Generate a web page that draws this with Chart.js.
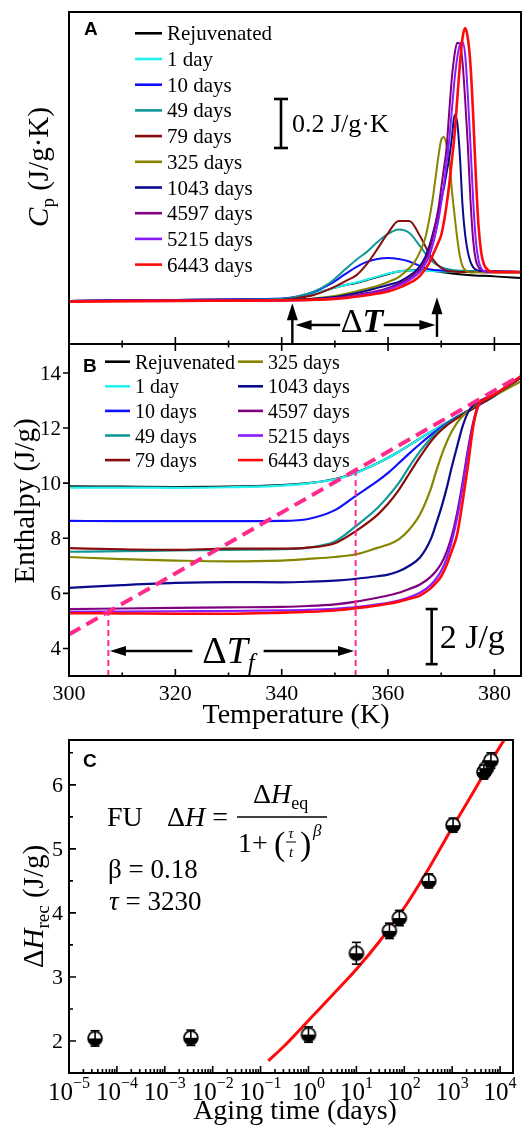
<!DOCTYPE html>
<html>
<head>
<meta charset="utf-8">
<script src="https://cdn.jsdelivr.net/npm/chart.js@4.4.1/dist/chart.umd.min.js"></script>
<style>
  html, body { margin: 0; padding: 0; background: #fff; }
  body { width: 522px; height: 1129px; position: relative; overflow: hidden; }
  canvas { position: absolute; left: 0; }
  #cpChart { top: 0; }
  #enthalpyChart { top: 330px; }
  #agingChart { top: 728px; }
</style>
</head>
<body>
<canvas id="cpChart" width="522" height="346"></canvas>
<canvas id="enthalpyChart" width="522" height="402"></canvas>
<canvas id="agingChart" width="522" height="401"></canvas>
<script>
/* ==========================
   DATA
========================== */

const seriesLabels = ["Rejuvenated", "1 day", "10 days", "49 days", "79 days",
    "325 days", "1043 days", "4597 days", "5215 days", "6443 days"];

// panel A : heat capacity (J/g.K)
const cpTempsBroad = [300, 310, 320, 330, 340, 343, 346, 349, 352, 354, 356, 358,
    360, 362, 364, 366, 368, 370, 372, 375, 380, 385];
const cpTempsSharp = [300, 320, 340, 350, 355, 358, 360, 362, 364, 365, 366, 367,
    367.5, 368, 368.5, 369, 369.5, 370, 370.5, 371, 371.5, 372, 372.5, 373, 373.5,
    374, 374.5, 375, 375.5, 376, 376.5, 377, 377.5, 378, 379, 380, 385];

const cpRejuvenated = [1.496, 1.498, 1.500, 1.502, 1.504, 1.510, 1.524, 1.544, 1.561, 1.569, 1.581, 1.593,
    1.606, 1.616, 1.620, 1.622, 1.620, 1.614, 1.608, 1.602, 1.596, 1.589];
const cp1Day = [1.494, 1.496, 1.498, 1.500, 1.504, 1.512, 1.526, 1.544, 1.561, 1.571, 1.583, 1.595,
    1.608, 1.616, 1.620, 1.620, 1.618, 1.616, 1.616, 1.616, 1.616, 1.614];
const cp10Days = [1.496, 1.498, 1.500, 1.502, 1.506, 1.514, 1.532, 1.563, 1.606, 1.634, 1.655, 1.667,
    1.671, 1.667, 1.657, 1.638, 1.624, 1.620, 1.618, 1.618, 1.616, 1.614];
const cp49Days = [1.494, 1.496, 1.498, 1.500, 1.504, 1.514, 1.534, 1.569, 1.626, 1.663, 1.696, 1.736,
    1.769, 1.787, 1.773, 1.720, 1.663, 1.634, 1.622, 1.618, 1.616, 1.614];
const cp79Days = [1.496, 1.498, 1.500, 1.500, 1.500, 1.508, 1.520, 1.544, 1.577, 1.600, 1.646, 1.708,
    1.773, 1.822, 1.822, 1.761, 1.679, 1.630, 1.616, 1.614, 1.612, 1.612];
const cp325Days = [1.496, 1.498, 1.500, 1.516, 1.540, 1.557, 1.573, 1.593, 1.630, 1.655, 1.696, 1.753,
    1.802, 1.859, 1.928, 2.010, 2.091, 2.153, 2.165, 2.132, 2.071, 1.949, 1.847, 1.753, 1.679,
    1.638, 1.622, 1.614, 1.612, 1.612, 1.614, 1.614, 1.614, 1.614, 1.614, 1.614, 1.612];
const cp1043Days = [1.496, 1.498, 1.500, 1.512, 1.532, 1.549, 1.561, 1.573, 1.598, 1.614, 1.638, 1.675,
    1.704, 1.736, 1.777, 1.818, 1.859, 1.908, 1.957, 2.018, 2.079, 2.161, 2.255, 2.226, 2.091,
    1.887, 1.765, 1.696, 1.655, 1.634, 1.624, 1.620, 1.618, 1.618, 1.616, 1.616, 1.614];
const cp4597Days = [1.496, 1.498, 1.498, 1.508, 1.524, 1.536, 1.549, 1.565, 1.589, 1.606, 1.626, 1.663,
    1.687, 1.720, 1.765, 1.818, 1.879, 1.957, 2.038, 2.120, 2.267, 2.406, 2.500, 2.549, 2.545,
    2.471, 2.316, 2.132, 1.908, 1.744, 1.663, 1.634, 1.622, 1.618, 1.616, 1.616, 1.614];
const cp5215Days = [1.496, 1.498, 1.498, 1.506, 1.520, 1.532, 1.542, 1.559, 1.581, 1.596, 1.614, 1.647,
    1.667, 1.696, 1.732, 1.777, 1.830, 1.896, 1.969, 2.059, 2.153, 2.275, 2.398, 2.487, 2.540,
    2.553, 2.500, 2.336, 2.132, 1.908, 1.744, 1.663, 1.630, 1.618, 1.616, 1.614, 1.614];
const cp6443Days = [1.493, 1.496, 1.498, 1.504, 1.516, 1.526, 1.534, 1.549, 1.569, 1.581, 1.598, 1.626,
    1.642, 1.663, 1.687, 1.712, 1.736, 1.765, 1.818, 1.887, 1.969, 2.071, 2.173, 2.316, 2.459,
    2.569, 2.610, 2.569, 2.459, 2.255, 2.010, 1.806, 1.696, 1.647, 1.618, 1.614, 1.614];

// panel B : enthalpy (J/g)
const hTemps = [300, 310, 320, 330, 340, 345, 350, 354, 358, 360, 362, 364, 366,
    368, 369, 370, 371, 372, 373, 374, 375, 376, 377, 378, 380, 385];

const hRejuvenated = [9.88, 9.87, 9.86, 9.87, 9.93, 10.00, 10.15, 10.38, 10.72, 10.92, 11.14, 11.38, 11.62,
    11.86, 11.97, 12.08, 12.19, 12.30, 12.41, 12.52, 12.62, 12.72, 12.83, 12.94, 13.17, 13.85];
const h1Day = [9.84, 9.84, 9.83, 9.85, 9.91, 9.99, 10.14, 10.37, 10.72, 10.92, 11.14, 11.38, 11.62,
    11.86, 11.97, 12.08, 12.19, 12.30, 12.41, 12.52, 12.62, 12.72, 12.83, 12.94, 13.17, 13.84];
const h10Days = [8.63, 8.62, 8.62, 8.62, 8.63, 8.70, 9.02, 9.55, 10.07, 10.37, 10.72, 11.08, 11.42,
    11.74, 11.89, 12.03, 12.16, 12.28, 12.40, 12.51, 12.62, 12.72, 12.83, 12.94, 13.17, 13.85];
const h49Days = [7.51, 7.53, 7.56, 7.58, 7.60, 7.66, 7.88, 8.45, 9.10, 9.52, 10.00, 10.60, 11.15,
    11.62, 11.82, 11.98, 12.13, 12.26, 12.38, 12.50, 12.61, 12.72, 12.83, 12.94, 13.17, 13.84];
const h79Days = [7.64, 7.60, 7.58, 7.62, 7.62, 7.66, 7.82, 8.27, 8.85, 9.25, 9.75, 10.35, 10.95,
    11.50, 11.73, 11.92, 12.09, 12.23, 12.36, 12.48, 12.60, 12.71, 12.82, 12.94, 13.17, 13.84];
const h325Days = [7.32, 7.24, 7.19, 7.16, 7.19, 7.25, 7.32, 7.42, 7.65, 7.77, 7.96, 8.32, 8.86,
    9.77, 10.40, 10.98, 11.48, 11.88, 12.20, 12.43, 12.61, 12.77, 12.91, 13.03, 13.18, 13.70];
const h1043Days = [6.20, 6.30, 6.38, 6.41, 6.40, 6.42, 6.46, 6.53, 6.62, 6.68, 6.80, 7.00, 7.30,
    7.95, 8.50, 9.10, 9.80, 10.60, 11.34, 12.05, 12.55, 12.82, 12.95, 13.05, 13.20, 13.87];
const h4597Days = [5.43, 5.45, 5.47, 5.49, 5.51, 5.54, 5.60, 5.70, 5.84, 5.92, 6.02, 6.16, 6.32,
    6.60, 6.80, 7.08, 7.50, 8.10, 8.93, 10.00, 11.20, 12.20, 12.85, 13.05, 13.22, 13.86];
const h5215Days = [5.33, 5.34, 5.35, 5.36, 5.38, 5.40, 5.44, 5.50, 5.60, 5.66, 5.74, 5.86, 6.02,
    6.30, 6.52, 6.82, 7.25, 7.90, 8.75, 9.85, 11.10, 12.10, 12.80, 13.03, 13.22, 13.88];
const h6443Days = [5.28, 5.27, 5.26, 5.26, 5.30, 5.33, 5.38, 5.46, 5.56, 5.62, 5.70, 5.80, 5.92,
    6.18, 6.38, 6.62, 7.02, 7.55, 8.15, 9.30, 10.60, 12.05, 12.85, 13.03, 13.22, 13.88];

// dashed construction lines of panel B
const liquidT = [300, 385];
const liquidH = [4.51, 13.91];
const tfLowT = [307.4, 307.4];
const tfLowH = [3, 5.30];
const tfHighT = [353.9, 353.9];
const tfHighH = [3, 10.42];

// panel C : recovered enthalpy vs aging time
const agingDays = [3.5e-5, 3.5e-3, 1, 10, 49, 79, 325, 1043, 4597, 5215, 6443];
const recoveredH = [2.04, 2.05, 2.10, 3.37, 3.72, 3.92, 4.50, 5.37, 6.20, 6.26, 6.38];
const recoveredErr = [0.12, 0.12, 0.12, 0.17, 0.12, 0.12, 0.11, 0.11, 0.11, 0.11, 0.12];
const fitDays = [0.145, 0.3, 1, 3, 10, 30, 100, 300, 1000, 3000, 10000, 15000];
const fitH = [1.69, 1.91, 2.32, 2.70, 3.12, 3.55, 4.08, 4.65, 5.33, 5.93, 6.60, 6.80];

// ticks
const tempTicksMajor = [320, 340, 360, 380];
const tempTicksMinor = [310, 330, 350, 370];
const tempLabels = [300, 320, 340, 360, 380];
const enthalpyTicks = [4, 6, 8, 10, 12, 14];
const recoveryTicks = [2, 3, 4, 5, 6];
const recoveryMinor = [2.5, 3.5, 4.5, 5.5, 6.5];
const timeExponents = [-5, -4, -3, -2, -1, 0, 1, 2, 3, 4];

/* ==========================
   STYLE + HELPERS
========================== */

const seriesColors = ["#000000", "#22F2F2", "#1010FF", "#109898", "#880C0C",
    "#858500", "#0A0A8C", "#800080", "#8A1AFF", "#FF0A0A"];

const SERIF = '"Liberation Serif", "Times New Roman", Times, serif';
const SANS = '"Liberation Sans", Arial, sans-serif';

function font(size, style) {
    return (style || "normal") + " " + size + "px " + SERIF;
}

function drawRuns(ctx, x, y, runs) {
    let cx = x;
    runs.forEach(r => {
        ctx.font = font(r.size, r.style);
        ctx.fillText(r.text, cx, y + (r.dy || 0));
        cx += ctx.measureText(r.text).width;
    });
    return cx - x;
}

function runsWidth(ctx, runs) {
    let w = 0;
    runs.forEach(r => {
        ctx.font = font(r.size, r.style);
        w += ctx.measureText(r.text).width;
    });
    return w;
}

function rotatedTitle(ctx, baseX, centerY, runs) {
    ctx.save();
    ctx.translate(baseX, centerY);
    ctx.rotate(-Math.PI / 2);
    ctx.textAlign = "left";
    const w = runsWidth(ctx, runs);
    drawRuns(ctx, -w / 2, 0, runs);
    ctx.restore();
}

function frame(ctx, a) {
    ctx.lineWidth = 2;
    ctx.strokeStyle = "#000";
    ctx.strokeRect(a.left, a.top, a.right - a.left, a.bottom - a.top);
}

function xTicks(ctx, scale, values, yEdge, len) {
    ctx.beginPath();
    values.forEach(v => {
        const px = scale.getPixelForValue(v);
        ctx.moveTo(px, yEdge);
        ctx.lineTo(px, yEdge + len);
    });
    ctx.stroke();
}

function yTicks(ctx, scale, values, xEdge, len) {
    ctx.beginPath();
    values.forEach(v => {
        const py = scale.getPixelForValue(v);
        ctx.moveTo(xEdge, py);
        ctx.lineTo(xEdge + len, py);
    });
    ctx.stroke();
}

function arrowHead(ctx, tipX, tipY, dx, dy, len, half) {
    const bx = tipX - dx * len, by = tipY - dy * len;
    ctx.beginPath();
    ctx.moveTo(tipX, tipY);
    ctx.lineTo(bx - dy * half, by + dx * half);
    ctx.lineTo(bx + dy * half, by - dx * half);
    ctx.closePath();
    ctx.fill();
}

function line(ctx, x1, y1, x2, y2) {
    ctx.beginPath();
    ctx.moveTo(x1, y1);
    ctx.lineTo(x2, y2);
    ctx.stroke();
}

function drawLegendRow(ctx, color, label, x0, x1, tx, y, size) {
    ctx.strokeStyle = color;
    ctx.lineWidth = 2.6;
    line(ctx, x0, y, x1, y);
    ctx.fillStyle = "#000";
    ctx.font = font(size);
    ctx.fillText(label, tx, y + 7);
}

const baseOptions = (pad) => ({
    responsive: false,
    animation: false,
    devicePixelRatio: 1,
    layout: { padding: pad },
    plugins: { legend: { display: false }, tooltip: { enabled: false } }
});

/* ==========================
   PANEL A
========================== */

const cpSeries = [cpRejuvenated, cp1Day, cp10Days, cp49Days, cp79Days,
    cp325Days, cp1043Days, cp4597Days, cp5215Days, cp6443Days];

const cpDecor = {
    id: "cpDecor",
    afterDraw(chart) {
        const { ctx, chartArea: a, scales: { x, y } } = chart;
        ctx.save();
        ctx.fillStyle = "#000";
        frame(ctx, a);
        ctx.lineWidth = 1.6;
        xTicks(ctx, x, tempTicksMajor, a.bottom, -7);
        xTicks(ctx, x, tempTicksMinor, a.bottom, -3.5);

        ctx.font = "bold 19px " + SANS;
        ctx.fillText("A", 84, 35);

        chart.data.datasets.forEach((ds, i) => {
            drawLegendRow(ctx, ds.borderColor, ds.label, 135, 162, 167, 33.3 + i * 25.7, 21);
        });

        // scale bar 0.2 J/g.K
        ctx.strokeStyle = "#000";
        ctx.lineWidth = 2.6;
        const sTop = y.getPixelForValue(2.32), sBot = y.getPixelForValue(2.12);
        line(ctx, 281, sTop, 281, sBot);
        line(ctx, 274, sTop, 288, sTop);
        line(ctx, 274, sBot, 288, sBot);
        ctx.font = font(26);
        ctx.fillText("0.2 J/g\u00B7K", 292, 132);

        // Delta T arrows
        ctx.lineWidth = 2.4;
        const u1 = x.getPixelForValue(342), u2 = x.getPixelForValue(369.2);
        const t1 = y.getPixelForValue(1.486), t2 = y.getPixelForValue(1.511);
        line(ctx, u1, a.bottom, u1, t1 + 14);
        arrowHead(ctx, u1, t1, 0, -1, 17, 5.5);
        line(ctx, u2, y.getPixelForValue(1.349), u2, t2 + 14);
        arrowHead(ctx, u2, t2, 0, -1, 17, 5.5);

        const yh = y.getPixelForValue(1.3976);
        const l1 = x.getPixelForValue(342.6), l2 = x.getPixelForValue(351);
        const r1 = x.getPixelForValue(359.2), r2 = x.getPixelForValue(368.9);
        line(ctx, l1 + 12, yh, l2, yh);
        arrowHead(ctx, l1, yh, -1, 0, 16, 5);
        line(ctx, r1, yh, r2 - 12, yh);
        arrowHead(ctx, r2, yh, 1, 0, 16, 5);
        const dRuns = [{ text: "\u0394", size: 34 }, { text: "T", size: 34, style: "italic bold" }];
        const cx = x.getPixelForValue(355.1);
        drawRuns(ctx, cx - runsWidth(ctx, dRuns) / 2, 332, dRuns);

        rotatedTitle(ctx, 48, 167, [
            { text: "C", size: 29, style: "italic" },
            { text: "p", size: 19, dy: 6 },
            { text: " (J/g\u00B7K)", size: 29 }
        ]);
        ctx.restore();
    }
};

new Chart(document.getElementById("cpChart"), {
    type: "line",
    data: {
        datasets: seriesLabels.map((label, i) => {
            const temps = i < 5 ? cpTempsBroad : cpTempsSharp;
            return {
                label,
                data: temps.map((t, j) => ({ x: t, y: cpSeries[i][j] })),
                borderColor: seriesColors[i],
                borderWidth: i === 9 ? 2.6 : 2,
                pointRadius: 0,
                cubicInterpolationMode: "monotone",
                order: seriesLabels.length - i
            };
        })
    },
    options: Object.assign(baseOptions({ left: 69, right: 1, top: 12, bottom: 2 }), {
        scales: {
            x: { type: "linear", min: 300, max: 385, display: false },
            y: { type: "linear", min: 1.32, max: 2.675, display: false }
        }
    }),
    plugins: [cpDecor]
});

/* ==========================
   PANEL B
========================== */

const hSeries = [hRejuvenated, h1Day, h10Days, h49Days, h79Days,
    h325Days, h1043Days, h4597Days, h5215Days, h6443Days];

const pink = "#FF2A8C";

const enthalpyDecor = {
    id: "enthalpyDecor",
    afterDraw(chart) {
        const { ctx, chartArea: a, scales: { x, y } } = chart;
        ctx.save();
        ctx.fillStyle = "#000";
        frame(ctx, a);
        ctx.lineWidth = 1.6;
        xTicks(ctx, x, tempTicksMajor, a.top, 7);
        xTicks(ctx, x, tempTicksMinor, a.top, 3.5);
        xTicks(ctx, x, tempTicksMajor, a.bottom, -7);
        xTicks(ctx, x, tempTicksMinor, a.bottom, -3.5);
        yTicks(ctx, y, enthalpyTicks, a.left, -6);

        ctx.font = font(21);
        ctx.textAlign = "right";
        enthalpyTicks.forEach(v => ctx.fillText(String(v), a.left - 8, y.getPixelForValue(v) + 7));
        ctx.textAlign = "center";
        ctx.font = font(22);
        tempLabels.forEach(v => ctx.fillText(String(v), x.getPixelForValue(v), a.bottom + 24));
        ctx.font = font(28);
        ctx.fillText("Temperature (K)", a.left + 227, a.bottom + 47);
        ctx.textAlign = "left";

        rotatedTitle(ctx, 34, a.top + 157, [{ text: "Enthalpy (J/g)", size: 29 }]);

        ctx.font = "bold 19px " + SANS;
        ctx.fillText("B", 83, a.top + 27.7);

        for (let i = 0; i < 10; i++) {
            const ds = chart.data.datasets[i];
            const col = i < 5 ? 0 : 1;
            const row = i % 5;
            const yy = a.top + 17.7 + row * 24.6;
            if (col === 0) drawLegendRow(ctx, ds.borderColor, ds.label, 105, 130, 135, yy, 20);
            else drawLegendRow(ctx, ds.borderColor, ds.label, 238, 263, 268, yy, 20);
        }

        // scale bar 2 J/g
        ctx.strokeStyle = "#000";
        ctx.lineWidth = 2.6;
        const bx = x.getPixelForValue(368.2);
        const bTop = y.getPixelForValue(5.43), bBot = y.getPixelForValue(3.43);
        line(ctx, bx, bTop, bx, bBot);
        line(ctx, bx - 6, bTop, bx + 6, bTop);
        line(ctx, bx - 6, bBot, bx + 6, bBot);
        ctx.font = font(34);
        ctx.fillText("2 J/g", bx + 8, y.getPixelForValue(4.43) + 11);

        // Delta T_f arrow
        ctx.lineWidth = 2.4;
        const ya = y.getPixelForValue(3.906);
        const lt = x.getPixelForValue(307.7), le = x.getPixelForValue(323.2);
        const rs = x.getPixelForValue(336.6), rt = x.getPixelForValue(353.6);
        line(ctx, lt + 12, ya, le, ya);
        arrowHead(ctx, lt, ya, -1, 0, 16, 5);
        line(ctx, rs, ya, rt - 12, ya);
        arrowHead(ctx, rt, ya, 1, 0, 16, 5);
        const fRuns = [
            { text: "\u0394", size: 38 },
            { text: "T", size: 38, style: "italic" },
            { text: "f", size: 25, style: "italic", dy: 8 }
        ];
        const fc = x.getPixelForValue(330.0);
        drawRuns(ctx, fc - runsWidth(ctx, fRuns) / 2, ya + 12, fRuns);
        ctx.restore();
    }
};

const hDatasets = seriesLabels.map((label, i) => ({
    label,
    data: hTemps.map((t, j) => ({ x: t, y: hSeries[i][j] })),
    borderColor: seriesColors[i],
    borderWidth: i === 9 ? 2.6 : 2.2,
    pointRadius: 0,
    cubicInterpolationMode: "monotone",
    order: seriesLabels.length - i + 1
}));

hDatasets.push({
    label: "liquid",
    data: liquidT.map((t, j) => ({ x: t, y: liquidH[j] })),
    borderColor: pink, borderWidth: 4, borderDash: [13, 7],
    pointRadius: 0, order: 0
});
[[tfLowT, tfLowH], [tfHighT, tfHighH]].forEach(([ts, hs]) => {
    hDatasets.push({
        label: "Tf",
        data: ts.map((t, j) => ({ x: t, y: hs[j] })),
        borderColor: pink, borderWidth: 2, borderDash: [6, 4],
        pointRadius: 0, order: 0
    });
});

new Chart(document.getElementById("enthalpyChart"), {
    type: "line",
    data: { datasets: hDatasets },
    options: Object.assign(baseOptions({ left: 69, right: 1, top: 14, bottom: 56 }), {
        scales: {
            x: { type: "linear", min: 300, max: 385, display: false },
            y: { type: "linear", min: 3, max: 15.05, display: false }
        }
    }),
    plugins: [enthalpyDecor]
});

/* ==========================
   PANEL C
========================== */

function halfFilledMarker() {
    const c = document.createElement("canvas");
    c.width = 18;
    c.height = 18;
    const g = c.getContext("2d");
    g.beginPath();
    g.arc(9, 9, 6.9, 0, 2 * Math.PI);
    g.fillStyle = "#fff";
    g.fill();
    g.beginPath();
    g.arc(9, 9, 6.9, 0, Math.PI);
    g.closePath();
    g.fillStyle = "#000";
    g.fill();
    g.beginPath();
    g.arc(9, 9, 6.9, 0, 2 * Math.PI);
    g.lineWidth = 1.8;
    g.strokeStyle = "#000";
    g.stroke();
    return c;
}

const OFFSET_C = 728;

const agingDecor = {
    id: "agingDecor",
    afterDatasetsDraw(chart) {
        const { ctx, scales: { x, y } } = chart;
        ctx.save();
        ctx.strokeStyle = "#000";
        ctx.lineWidth = 1.6;
        agingDays.forEach((d, i) => {
            const px = x.getPixelForValue(d);
            const top = y.getPixelForValue(recoveredH[i] + recoveredErr[i]);
            const bot = y.getPixelForValue(recoveredH[i] - recoveredErr[i]);
            line(ctx, px, top, px, bot);
            line(ctx, px - 4.5, top, px + 4.5, top);
            line(ctx, px - 4.5, bot, px + 4.5, bot);
        });
        ctx.restore();
    },
    afterDraw(chart) {
        const { ctx, chartArea: a, scales: { x, y } } = chart;
        const P = (py) => py - OFFSET_C;
        ctx.save();
        ctx.fillStyle = "#000";
        frame(ctx, a);
        ctx.lineWidth = 1.6;
        yTicks(ctx, y, recoveryTicks, a.left, 7);
        yTicks(ctx, y, recoveryMinor, a.left, 4);
        const majors = timeExponents.map(k => Math.pow(10, k));
        const minors = [];
        timeExponents.forEach(k => {
            for (let m = 2; m <= 9; m++) {
                const v = m * Math.pow(10, k);
                if (v < x.max) minors.push(v);
            }
        });
        xTicks(ctx, x, majors, a.bottom, -7);
        xTicks(ctx, x, minors, a.bottom, -4);

        ctx.font = font(22);
        ctx.textAlign = "right";
        recoveryTicks.forEach(v => ctx.fillText(String(v), a.left - 6, y.getPixelForValue(v) + 7));
        ctx.textAlign = "left";

        timeExponents.forEach(k => {
            const runs = [
                { text: "10", size: 25 },
                { text: (k < 0 ? "\u2212" : "") + Math.abs(k), size: 16, dy: -12 }
            ];
            const px = x.getPixelForValue(Math.pow(10, k));
            drawRuns(ctx, px - runsWidth(ctx, runs) / 2, a.bottom + 27, runs);
        });

        ctx.textAlign = "center";
        ctx.font = font(28);
        ctx.fillText("Aging time (days)", a.left + 226, a.bottom + 46);
        ctx.textAlign = "left";

        rotatedTitle(ctx, 43, (a.top + a.bottom) / 2, [
            { text: "\u0394", size: 29 },
            { text: "H", size: 29, style: "italic" },
            { text: "rec", size: 19, dy: 6 },
            { text: " (J/g)", size: 29 }
        ]);

        ctx.font = "bold 19px " + SANS;
        ctx.fillText("C", 83, a.top + 27);

        // fit equation
        drawRuns(ctx, 107, P(826), [{ text: "FU", size: 28 }]);
        drawRuns(ctx, 167, P(826), [
            { text: "\u0394", size: 28 },
            { text: "H", size: 28, style: "italic" },
            { text: " =", size: 28 }
        ]);
        ctx.lineWidth = 1.5;
        ctx.strokeStyle = "#000";
        line(ctx, 237, P(817), 327, P(817));
        drawRuns(ctx, 253, P(803), [
            { text: "\u0394", size: 28 },
            { text: "H", size: 28, style: "italic" },
            { text: "eq", size: 18, dy: 6 }
        ]);
        drawRuns(ctx, 238, P(852), [{ text: "1+", size: 28 }]);
        drawRuns(ctx, 274, P(855), [{ text: "(", size: 34 }]);
        ctx.textAlign = "center";
        ctx.font = font(15, "italic");
        ctx.fillText("\u03C4", 291, P(838));
        ctx.fillText("t", 291, P(857));
        ctx.lineWidth = 1;
        line(ctx, 286, P(842), 296, P(842));
        ctx.textAlign = "left";
        drawRuns(ctx, 300, P(855), [{ text: ")", size: 34 }]);
        drawRuns(ctx, 313, P(836), [{ text: "\u03B2", size: 17, style: "italic" }]);

        drawRuns(ctx, 108, P(878), [{ text: "\u03B2 = 0.18", size: 27 }]);
        drawRuns(ctx, 109, P(910), [
            { text: "\u03C4", size: 27, style: "italic" },
            { text: " = 3230", size: 27 }
        ]);
        ctx.restore();
    }
};

new Chart(document.getElementById("agingChart"), {
    type: "scatter",
    data: {
        datasets: [
            {
                label: "measured",
                data: agingDays.map((d, i) => ({ x: d, y: recoveredH[i] })),
                pointStyle: halfFilledMarker(),
                pointRadius: 8,
                showLine: false,
                order: 0
            },
            {
                label: "FU fit",
                data: fitDays.map((d, i) => ({ x: d, y: fitH[i] })),
                showLine: true,
                borderColor: "#FF0A0A",
                borderWidth: 3,
                pointRadius: 0,
                cubicInterpolationMode: "monotone",
                order: 1
            }
        ]
    },
    options: Object.assign(baseOptions({ left: 69, right: 1, top: 12, bottom: 56 }), {
        scales: {
            x: { type: "logarithmic", min: 1e-5, max: Math.pow(10, 4.27), display: false },
            y: { type: "linear", min: 1.5, max: 6.7, display: false }
        }
    }),
    plugins: [agingDecor]
});
</script>
</body>
</html>
